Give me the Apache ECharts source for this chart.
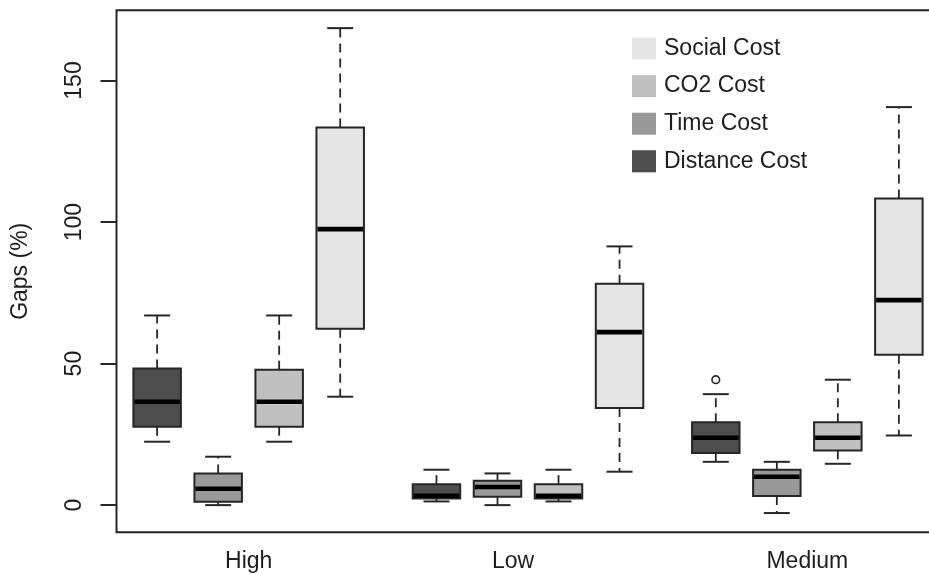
<!DOCTYPE html>
<html>
<head>
<meta charset="utf-8">
<script src="https://cdn.jsdelivr.net/npm/echarts@6/dist/echarts.min.js"></script>
<style>
  html, body { margin: 0; padding: 0; background: #ffffff; }
  #chart { width: 929px; height: 574px; }
</style>
</head>
<body>
<div id="chart"></div>
<script>
// Scenario groups along the x axis
const categories = ['High', 'Low', 'Medium'];

// Five-number summaries per group: [lower whisker, Q1, median, Q3, upper whisker]
const distanceCost = [
  [22.4, 27.7, 36.5, 48.3, 67.0],
  [1.3, 2.3, 3.3, 7.4, 12.5],
  [15.3, 18.4, 23.8, 29.3, 39.2]
];
const timeCost = [
  [0.0, 1.2, 5.8, 11.2, 17.1],
  [0.0, 3.0, 6.4, 8.6, 11.2],
  [-2.8, 3.2, 10.0, 12.5, 15.3]
];
const co2Cost = [
  [22.4, 27.7, 36.5, 47.8, 67.0],
  [1.3, 2.3, 3.3, 7.4, 12.5],
  [14.6, 19.3, 23.8, 29.3, 44.3]
];
const socialCost = [
  [38.3, 62.3, 97.5, 133.4, 168.5],
  [11.8, 34.3, 61.1, 78.2, 91.4],
  [24.6, 53.1, 72.4, 108.3, 140.6]
];
// Points beyond the whiskers: [group, value]
const distanceOutliers = [['Medium', 44.3]];

const yTicks = [0, 50, 100, 150];

// Series in drawing order (left to right inside each group)
const seriesNames = ['Distance Cost', 'Time Cost', 'CO2 Cost', 'Social Cost'];
const seriesValues = [distanceCost, timeCost, co2Cost, socialCost];
const seriesColors = ['#4d4d4d', '#999999', '#c0c0c0', '#e5e5e5'];
// Legend lists the series top to bottom in reverse order
const legendOrder = ['Social Cost', 'CO2 Cost', 'Time Cost', 'Distance Cost'];

const Y_MIN = -9.6, Y_MAX = 174.8;
const INK = '#262626';
const TEXT = '#1e1e1e';
const FONT = "'Liberation Sans', Arial, Helvetica, sans-serif";

// Horizontal placement of each series inside a category band (fraction of band width)
const boxOffsets = [-0.3277, -0.1092, 0.1092, 0.3277];
const BOX_FRAC = 0.170;
const STAPLE_FRAC = 0.093;

function boxRenderer(k) {
  return function (params, api) {
    const band = api.size([1, 0])[0];
    const cx = api.coord([api.value(0), 0])[0] + boxOffsets[k] * band;
    const w = band * BOX_FRAC;
    const staple = band * STAPLE_FRAC;
    const y = i => api.coord([api.value(0), api.value(i)])[1];
    const yLo = y(1), yQ1 = y(2), yMed = y(3), yQ3 = y(4), yHi = y(5);
    const dashed = { stroke: INK, lineWidth: 1.8, lineDash: [9, 6], fill: null };
    const solid = { stroke: INK, lineWidth: 2, fill: null };
    return {
      type: 'group',
      children: [
        { type: 'line', shape: { x1: cx, y1: yQ3, x2: cx, y2: yHi }, style: dashed },
        { type: 'line', shape: { x1: cx, y1: yQ1, x2: cx, y2: yLo }, style: dashed },
        { type: 'line', shape: { x1: cx - staple / 2, y1: yHi, x2: cx + staple / 2, y2: yHi }, style: solid },
        { type: 'line', shape: { x1: cx - staple / 2, y1: yLo, x2: cx + staple / 2, y2: yLo }, style: solid },
        {
          type: 'rect',
          shape: { x: cx - w / 2, y: yQ3, width: w, height: yQ1 - yQ3 },
          style: { fill: api.visual('color'), stroke: INK, lineWidth: 2 }
        },
        {
          type: 'line',
          shape: { x1: cx - w / 2 + 1, y1: yMed, x2: cx + w / 2 - 1, y2: yMed },
          style: { stroke: '#000000', lineWidth: 4.6 }
        }
      ]
    };
  };
}

function outlierRenderer(k) {
  return function (params, api) {
    const band = api.size([1, 0])[0];
    const p = api.coord([api.value(0), api.value(1)]);
    return {
      type: 'circle',
      shape: { cx: p[0] + boxOffsets[k] * band, cy: p[1], r: 3.8 },
      style: { fill: null, stroke: INK, lineWidth: 1.6 }
    };
  };
}

const series = seriesNames.map((name, k) => ({
  name: name,
  type: 'custom',
  xAxisIndex: 1,
  yAxisIndex: 1,
  itemStyle: { color: seriesColors[k] },
  encode: { x: 0, y: [1, 2, 3, 4, 5] },
  data: seriesValues[k].map((v, i) => [i].concat(v)),
  renderItem: boxRenderer(k)
}));

series.push({
  name: 'Distance Cost outliers',
  type: 'custom',
  xAxisIndex: 1,
  yAxisIndex: 1,
  itemStyle: { color: seriesColors[0] },
  encode: { x: 0, y: 1 },
  data: distanceOutliers.map(o => [categories.indexOf(o[0]), o[1]]),
  renderItem: outlierRenderer(0)
});

const chart = echarts.init(document.getElementById('chart'), null, { renderer: 'canvas' });
chart.setOption({
  animation: false,
  backgroundColor: '#ffffff',
  textStyle: { fontFamily: FONT },
  grid: [
    // plot frame with the value axis (its right side runs past the canvas edge)
    {
      left: 116.5, top: 10.3, width: 840, height: 522,
      outerBoundsMode: 'none', containLabel: false,
      show: true, borderColor: INK, borderWidth: 2, backgroundColor: 'transparent'
    },
    // box layout area
    { left: 109, top: 10.3, width: 838, height: 522, outerBoundsMode: 'none', containLabel: false }
  ],
  legend: {
    data: legendOrder,
    orient: 'vertical',
    left: 632,
    top: 37,
    padding: 0,
    icon: 'rect',
    itemWidth: 24,
    itemHeight: 22,
    itemGap: 14.6,
    itemStyle: { borderWidth: 0 },
    textStyle: { fontSize: 23, color: TEXT, fontFamily: FONT, lineHeight: 22, padding: [0, 0, 0, 3] },
    selectedMode: false
  },
  xAxis: [
    { type: 'value', gridIndex: 0, show: false, min: 0, max: 1 },
    {
      type: 'category',
      gridIndex: 1,
      data: categories,
      axisLine: { show: false },
      axisTick: { show: false },
      splitLine: { show: false },
      axisLabel: {
        fontSize: 23,
        color: TEXT,
        margin: 18,
        fontFamily: FONT,
        // the middle group's name sits a little left of its boxes
        formatter: v => (v === 'Low' ? '{lead|' + v + '}' : v),
        rich: { lead: { fontSize: 23, color: TEXT, fontFamily: FONT, padding: [0, 30, 0, 0] } }
      }
    }
  ],
  yAxis: [
    {
      type: 'value',
      gridIndex: 0,
      min: Y_MIN,
      max: Y_MAX,
      axisLine: { show: false },
      splitLine: { show: false },
      axisTick: { show: true, customValues: yTicks, length: 16, lineStyle: { color: INK, width: 2 } },
      axisLabel: { customValues: yTicks, rotate: 90, fontSize: 23, color: TEXT, margin: 30, fontFamily: FONT },
      name: 'Gaps (%)',
      nameLocation: 'middle',
      nameRotate: 90,
      nameGap: 84,
      nameTextStyle: { fontSize: 23, color: TEXT, fontFamily: FONT }
    },
    { type: 'value', gridIndex: 1, min: Y_MIN, max: Y_MAX, show: false }
  ],
  series: series
});
</script>
</body>
</html>
